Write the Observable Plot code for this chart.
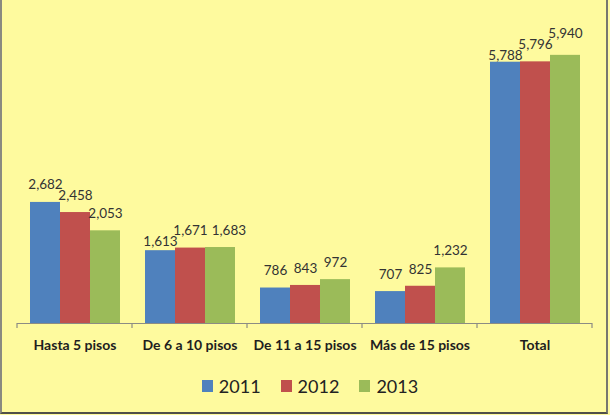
<!DOCTYPE html>
<html>
<head>
<meta charset="utf-8">
<script src="https://cdn.jsdelivr.net/npm/d3@7"></script>
<script src="https://cdn.jsdelivr.net/npm/@observablehq/plot@0.6"></script>
<style>
  html, body { margin: 0; padding: 0; background: #fefa9e; }
  #wrap { position: relative; width: 610px; height: 415px; background: #fefa9e; overflow: hidden; font-family: Lato, "Open Sans", sans-serif; }
  #chart { position: absolute; left: 0; top: 0; }
  #edge { position: absolute; left: 0; top: 0; width: 608px; height: 414px; box-sizing: border-box;
          border-left: 2px solid #8a8a80; border-right: 2px solid #77776e; border-bottom: 2px solid #505048; pointer-events: none; }
  #legend { position: absolute; left: 5px; top: 373px; width: 610px; display: flex; justify-content: center; gap: 20px;
            font-size: 18px; color: #222; line-height: 26px; }
  #legend .item { display: flex; align-items: center; }
  #legend .sw { width: 11px; height: 12px; margin-right: 6px; }
</style>
</head>
<body>
<div id="wrap">
  <div id="chart"></div>
  <div id="legend"></div>
  <div id="edge"></div>
</div>
<script>
// Building types by floor count, 2011–2013
const categories = ["Hasta 5 pisos", "De 6 a 10 pisos", "De 11 a 15 pisos", "Más de 15 pisos", "Total"];
const years = ["2011", "2012", "2013"];
const values2011 = [2682, 1613, 786, 707, 5788];
const values2012 = [2458, 1671, 843, 825, 5796];
const values2013 = [2053, 1683, 972, 1232, 5940];
const colors = ["#4f81bd", "#c0504d", "#9bbb59"];

const series = [values2011, values2012, values2013];
const rows = [];
categories.forEach((cat, i) => {
  years.forEach((yr, j) => rows.push({cat, year: yr, value: series[j][i]}));
});

const fmt = d3.format(",");

const chart = Plot.plot({
  width: 610,
  height: 360,
  marginLeft: 17,
  marginRight: 18,
  marginTop: 7,
  marginBottom: 37,
  style: {background: "transparent", fontFamily: "Lato, 'Open Sans', sans-serif", overflow: "visible"},
  fx: {domain: categories, padding: 0, label: null},
  x: {domain: years, paddingInner: 0, paddingOuter: 0.355, axis: null},
  y: {domain: [0, 7000], axis: null},
  color: {domain: years, range: colors},
  marks: [
    Plot.barY(rows, {fx: "cat", x: "year", y: "value", fill: "year"}),
    Plot.text(rows, {fx: "cat", x: "year", y: "value", text: d => fmt(d.value),
                     dy: -17, lineAnchor: "middle", fontSize: 13.5, fill: "#333"}),
    Plot.ruleY([0], {stroke: "#8c8c84", strokeWidth: 1.2}),
    Plot.axisFx({anchor: "bottom", tickSize: 0, tickPadding: 17, fontSize: 14,
                 fontWeight: "bold", fill: "#1e1e1e", label: null})
  ]
});

// Category boundary ticks hanging below the baseline
const fx = chart.scale("fx");
const yScale = chart.scale("y");
const base = yScale.apply(0);
const starts = categories.map(c => fx.apply(c));
const bw = fx.bandwidth;
const edges = [...starts, starts[starts.length - 1] + bw];
d3.select(chart).append("g")
  .attr("stroke", "#8c8c84")
  .attr("stroke-width", 1.2)
  .selectAll("line")
  .data(edges)
  .join("line")
  .attr("x1", d => d).attr("x2", d => d)
  .attr("y1", base).attr("y2", base + 5);

document.getElementById("chart").appendChild(chart);

// Keep neighbouring value labels from colliding. For the first clashing pair in
// a category the left label gives way (up if the right one is lower, down
// otherwise); a later clash is lifted when clearly higher, else nudged sideways.
const shift = (el, dx, dy) => {
  el.setAttribute("transform", `translate(${dx},${dy}) ` + (el.getAttribute("transform") || ""));
};
const minGap = 11;   // vertical clearance between label centres
const room = 4;      // horizontal breathing room between labels
const byFacet = d3.group(
  chart.querySelectorAll('g[aria-label="text"] text'),
  el => el.parentNode
);
for (const texts of byFacet.values()) {
  const items = texts.map(el => {
    const r = el.getBoundingClientRect();
    return {el, left: r.left, right: r.right, cy: r.top + r.height / 2};
  }).sort((a, b) => a.left - b.left);
  for (let i = 1; i < items.length; i++) {
    const prev = items[i - 1], cur = items[i];
    const overlap = prev.right + room - cur.left;
    const diff = cur.cy - prev.cy;
    if (overlap <= 0 || Math.abs(diff) >= minGap) continue;
    if (i === 1) {
      const dy = diff > 0 ? -(minGap - diff) : (minGap + diff);
      shift(prev.el, 0, dy); prev.cy += dy;
    } else if (diff < -3) {
      const dy = -(minGap + diff);
      shift(cur.el, 0, dy); cur.cy += dy;
    } else {
      const dx = overlap;
      shift(cur.el, dx, 0); cur.left += dx; cur.right += dx;
    }
  }
}

// Legend
const legend = d3.select("#legend");
years.forEach((yr, j) => {
  const item = legend.append("div").attr("class", "item");
  item.append("div").attr("class", "sw").style("background", colors[j]);
  item.append("span").text(yr);
});
</script>
</body>
</html>
